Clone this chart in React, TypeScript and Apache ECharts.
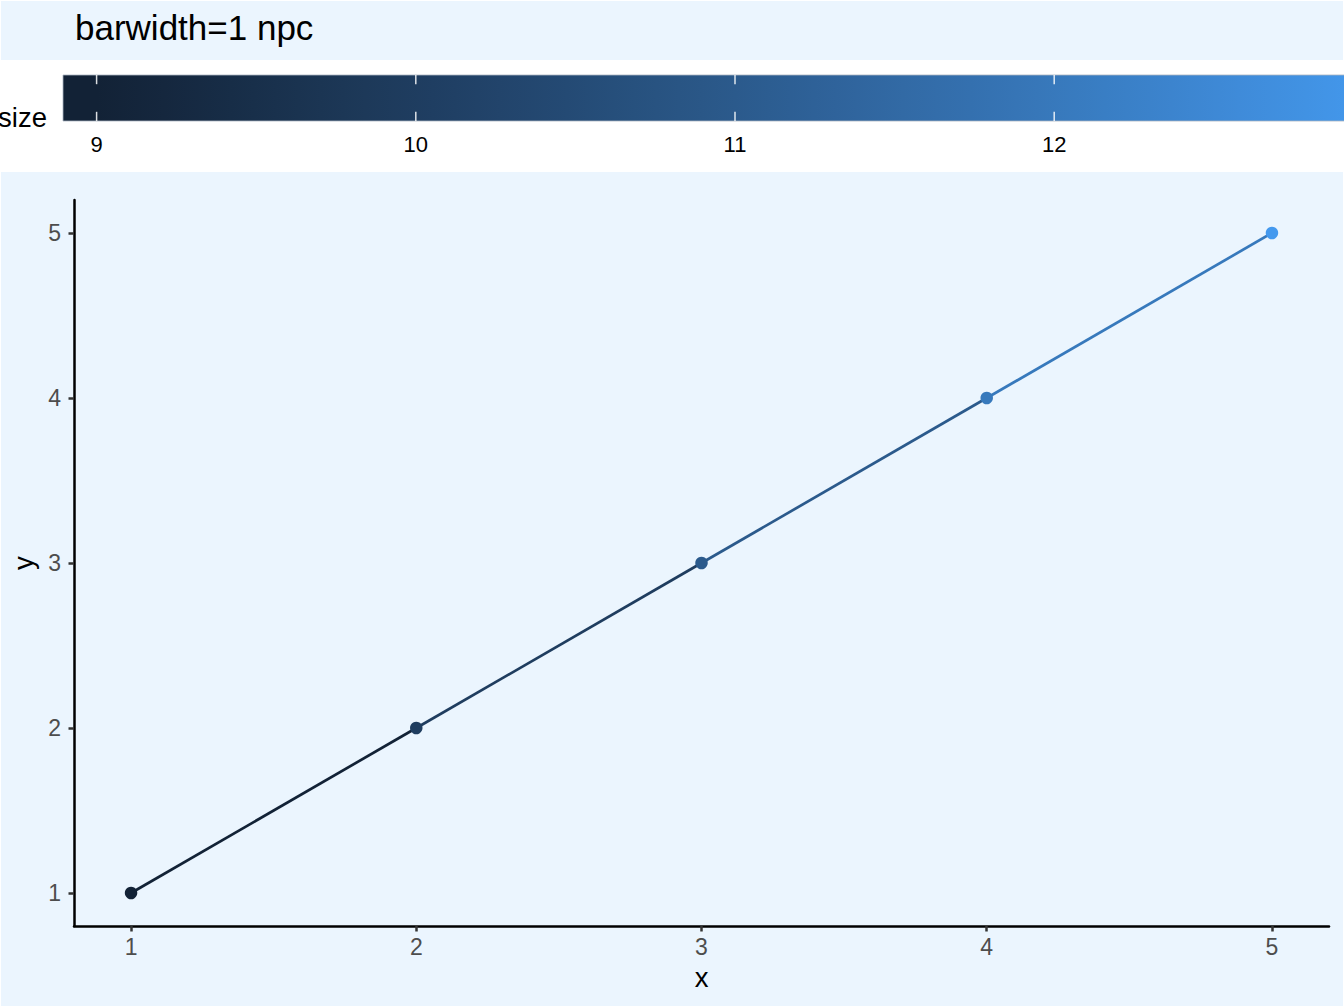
import React, { useEffect, useRef } from "react";
import * as echarts from "echarts";

// ---- data ----
const xValues = [1, 2, 3, 4, 5];
const yValues = [1, 2, 3, 4, 5];
const sizeValues = [9, 10, 11, 12, 13];
const axisTicks = [1, 2, 3, 4, 5];
const legendTicks = [9, 10, 11, 12];
const titleText = "barwidth=1 npc";
const legendTitle = "size";
const xTitle = "x";
const yTitle = "y";
const lowColor = "#122236";
const highColor = "#4499EE";

const FONT = "Liberation Sans, Arial, Helvetica, sans-serif";

// ---- Lab colour interpolation ----
function hexToRgb(h: string): number[] {
  return [parseInt(h.slice(1, 3), 16), parseInt(h.slice(3, 5), 16), parseInt(h.slice(5, 7), 16)];
}
function toLin(c: number) {
  c /= 255;
  return c <= 0.04045 ? c / 12.92 : Math.pow((c + 0.055) / 1.055, 2.4);
}
function fromLin(c: number) {
  const v = c <= 0.0031308 ? 12.92 * c : 1.055 * Math.pow(c, 1 / 2.4) - 0.055;
  return Math.round(Math.max(0, Math.min(1, v)) * 255);
}
const Xn = 0.95047, Yn = 1.0, Zn = 1.08883;
function rgbToLab(rgb: number[]) {
  const R = toLin(rgb[0]), G = toLin(rgb[1]), B = toLin(rgb[2]);
  const X = 0.4124564 * R + 0.3575761 * G + 0.1804375 * B;
  const Y = 0.2126729 * R + 0.7151522 * G + 0.072175 * B;
  const Z = 0.0193339 * R + 0.119192 * G + 0.9503041 * B;
  const f = (t: number) => (t > 0.008856 ? Math.cbrt(t) : 7.787 * t + 16 / 116);
  const fx = f(X / Xn), fy = f(Y / Yn), fz = f(Z / Zn);
  return [116 * fy - 16, 500 * (fx - fy), 200 * (fy - fz)];
}
function labToHex(lab: number[]) {
  const fy = (lab[0] + 16) / 116;
  const fx = fy + lab[1] / 500;
  const fz = fy - lab[2] / 200;
  const inv = (t: number) => (t * t * t > 0.008856 ? t * t * t : (t - 16 / 116) / 7.787);
  const X = Xn * inv(fx), Y = Yn * inv(fy), Z = Zn * inv(fz);
  const R = 3.2404542 * X - 1.5371385 * Y - 0.4985314 * Z;
  const G = -0.969266 * X + 1.8760108 * Y + 0.041556 * Z;
  const B = 0.0556434 * X - 0.2040259 * Y + 1.0572252 * Z;
  const hx = (v: number) => v.toString(16).padStart(2, "0");
  return "#" + hx(fromLin(R)) + hx(fromLin(G)) + hx(fromLin(B));
}
const labLow = rgbToLab(hexToRgb(lowColor));
const labHigh = rgbToLab(hexToRgb(highColor));
const sMin = Math.min(...sizeValues);
const sMax = Math.max(...sizeValues);
function colorAt(v: number) {
  const t = (v - sMin) / (sMax - sMin);
  return labToHex([0, 1, 2].map((k) => labLow[k] + (labHigh[k] - labLow[k]) * t));
}

export default function App() {
  const ref = useRef<HTMLDivElement>(null);
  useEffect(() => {
    if (!ref.current) return;
    const chart = echarts.init(ref.current, undefined, { renderer: "svg" });

    // colourbar geometry (legend box)
    const W = 1344;
    const barLeft = 63;
    const barTop = 75;
    const barH = 46;
    const barLen = W; // 1 npc
    const nbin = 20;
    const barPos = (v: number) =>
      barLeft + barLen * (0.5 / nbin + ((nbin - 1) / nbin) * (v - sMin) / (sMax - sMin));
    const stops: any[] = [];
    for (let i = 0; i < nbin; i++) {
      const v = sMin + (i * (sMax - sMin)) / (nbin - 1);
      stops.push({ offset: (i + 0.5) / nbin, color: colorAt(v) });
    }
    stops.unshift({ offset: 0, color: colorAt(sMin) });
    stops.push({ offset: 1, color: colorAt(sMax) });

    const graphics: any[] = [
      { type: "rect", z: -10, shape: { x: 1, y: 1, width: 1342, height: 59 }, style: { fill: "#EBF5FE" }, silent: true },
      { type: "rect", z: -10, shape: { x: 1, y: 172, width: 1342, height: 834 }, style: { fill: "#EBF5FE" }, silent: true },
      {
        type: "text", z: 100, x: 75, y: 27,
        style: { text: titleText, fontSize: 35, fontFamily: FONT, fill: "#000", align: "left", verticalAlign: "middle" },
      },
      {
        type: "rect", z: 50,
        shape: { x: barLeft, y: barTop, width: barLen, height: barH },
        style: {
          fill: { type: "linear", x: 0, y: 0, x2: 1, y2: 0, colorStops: stops },
          stroke: "rgba(170,180,192,0.8)", lineWidth: 1,
        },
      },
      {
        type: "text", z: 100, x: 47, y: 117,
        style: { text: legendTitle, fontSize: 27.5, fontFamily: FONT, fill: "#000", align: "right", verticalAlign: "middle" },
      },
    ];
    legendTicks.forEach((t) => {
      const px = barPos(t);
      graphics.push({
        type: "line", z: 60, shape: { x1: px, y1: barTop, x2: px, y2: barTop + 9.2 },
        style: { stroke: "rgba(255,255,255,0.85)", lineWidth: 1.5 },
      });
      graphics.push({
        type: "line", z: 60, shape: { x1: px, y1: barTop + barH - 9.2, x2: px, y2: barTop + barH },
        style: { stroke: "rgba(255,255,255,0.85)", lineWidth: 1.5 },
      });
      graphics.push({
        type: "text", z: 100, x: px, y: 144.5,
        style: { text: String(t), fontSize: 22, fontFamily: FONT, fill: "#000", align: "center", verticalAlign: "middle" },
      });
    });

    const segSeries: any[] = [];
    for (let i = 0; i < xValues.length - 1; i++) {
      segSeries.push({
        type: "line",
        data: [[xValues[i], yValues[i]], [xValues[i + 1], yValues[i + 1]]],
        symbol: "none",
        showSymbol: false,
        silent: true,
        lineStyle: { color: colorAt(sizeValues[i]), width: 2.7, opacity: 1 },
        z: 2,
      });
    }

    const axisCommon = {
      type: "value",
      min: 0.8,
      max: 5.2,
      splitLine: { show: false },
      axisLine: { show: true, onZero: false, lineStyle: { color: "#000", width: 2.5 } },
      axisTick: { show: true, length: 5.5, customValues: axisTicks, lineStyle: { color: "#333", width: 2.5 } },
      nameLocation: "middle",
      nameTextStyle: { fontSize: 27.5, color: "#000", fontFamily: FONT },
    };

    chart.setOption({
      animation: false,
      backgroundColor: "#ffffff",
      textStyle: { fontFamily: FONT },
      grid: { left: 74, right: 15, top: 200, bottom: 82, containLabel: false, outerBoundsMode: "none" },
      xAxis: {
        ...axisCommon,
        name: xTitle,
        nameGap: 37,
        axisLabel: { customValues: axisTicks, color: "#4D4D4D", fontSize: 23, margin: 9, fontFamily: FONT },
      },
      yAxis: {
        ...axisCommon,
        name: yTitle,
        nameGap: 35,
        axisLabel: { customValues: axisTicks, color: "#4D4D4D", fontSize: 23, margin: 13, fontFamily: FONT },
      },
      graphic: graphics,
      series: [
        ...segSeries,
        {
          type: "scatter",
          symbolSize: 12.5,
          z: 3,
          silent: true,
          itemStyle: { opacity: 1 },
          data: xValues.map((x, i) => ({
            value: [x, yValues[i]],
            itemStyle: { color: colorAt(sizeValues[i]), opacity: 1 },
          })),
        },
      ],
    });
    return () => chart.dispose();
  }, []);
  return <div ref={ref} style={{ position: "absolute", left: 0, top: 0, width: 1344, height: 1008 }} />;
}
